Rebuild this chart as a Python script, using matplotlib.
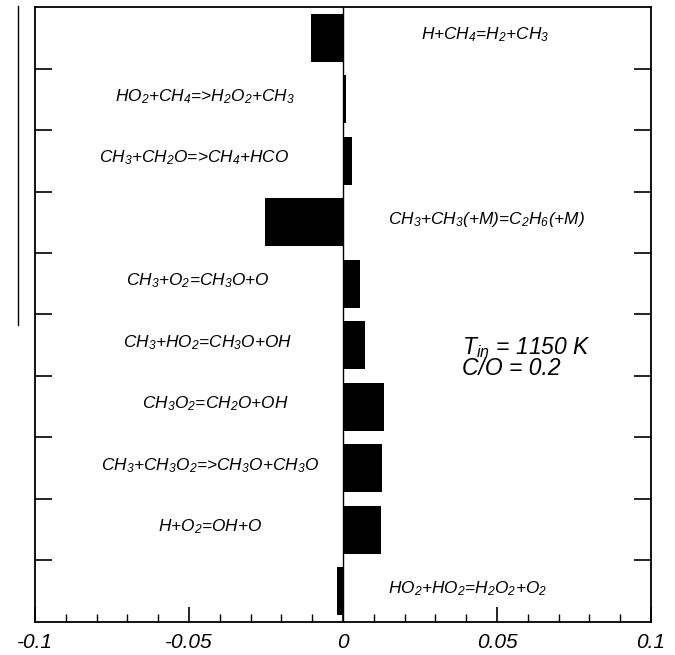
"""
Sensitivity of reactions at T_in = 1150 K, C/O = 0.2 (horizontal bar chart).
"""
import matplotlib
matplotlib.use("Agg")
import matplotlib.pyplot as plt
from matplotlib.lines import Line2D
from matplotlib.ticker import MultipleLocator

# Reactions from top to bottom
reactions = [
    "H+CH$_4$=H$_2$+CH$_3$",
    "HO$_2$+CH$_4$=>H$_2$O$_2$+CH$_3$",
    "CH$_3$+CH$_2$O=>CH$_4$+HCO",
    "CH$_3$+CH$_3$(+M)=C$_2$H$_6$(+M)",
    "CH$_3$+O$_2$=CH$_3$O+O",
    "CH$_3$+HO$_2$=CH$_3$O+OH",
    "CH$_3$O$_2$=CH$_2$O+OH",
    "CH$_3$+CH$_3$O$_2$=>CH$_3$O+CH$_3$O",
    "H+O$_2$=OH+O",
    "HO$_2$+HO$_2$=H$_2$O$_2$+O$_2$",
]
sensitivity = [-0.0104, 0.0011, 0.0028, -0.0254, 0.0056,
               0.0073, 0.0133, 0.0128, 0.0122, -0.0021]
# x position of the label centre for each reaction
label_x = [0.046, -0.0448, -0.0484, 0.0467, -0.047,
           -0.044, -0.0416, -0.043, -0.043, 0.0406]
xticks = [-0.1, -0.05, 0, 0.05, 0.1]
xtick_labels = ["-0.1", "-0.05", "0", "0.05", "0.1"]

plt.rcParams['mathtext.fontset'] = 'custom'
plt.rcParams['mathtext.it'] = 'Liberation Sans:italic'
plt.rcParams['mathtext.rm'] = 'Liberation Sans:italic'
plt.rcParams['font.family'] = 'Liberation Sans'
plt.rcParams['font.style'] = 'italic'

fig = plt.figure(figsize=(6.75, 6.55), dpi=100)
axis = fig.add_axes([0.0519, 0.0504, 0.9125, 0.9389])

n = len(reactions)
# row centres, first reaction at the top
ypos = [n - ii - 0.5 for ii in range(n)]

axis.barh(ypos, sensitivity, height=0.78, color='black', linewidth=0)
axis.axvline(0, color='black', linewidth=1.0)

for yy, xx, txt in zip(ypos, label_x, reactions):
    axis.text(xx, yy + 0.05, txt, ha='center', va='center', fontsize=12.4,
              style='italic')

axis.text(0.0385, 4.3, "T$_{in}$ = 1150 K\nC/O = 0.2", ha='left',
          va='center', fontsize=16.5, style='italic', linespacing=0.8)

axis.set_xlim(-0.1, 0.1)
axis.set_ylim(0, n)
axis.set_xticks(xticks)
axis.set_xticklabels(xtick_labels, fontsize=15, style='italic')
axis.xaxis.set_minor_locator(MultipleLocator(0.01))
axis.set_yticks(range(1, n))
axis.set_yticklabels([])
axis.tick_params(axis='x', which='major', direction='in', length=11,
                 width=1.2, pad=8)
axis.tick_params(axis='x', which='minor', direction='in', length=6,
                 width=1.0)
axis.tick_params(axis='y', which='major', direction='in', length=12,
                 width=1.2, left=True, right=True)
for spine in axis.spines.values():
    spine.set_linewidth(1.3)

# stray vertical line left of the frame
fig.add_artist(Line2D([18 / 675, 18 / 675], [1 - 6 / 655, 1 - 325 / 655],
                      transform=fig.transFigure, color='black',
                      linewidth=1.0))

fig.savefig("out.png", dpi=100)
